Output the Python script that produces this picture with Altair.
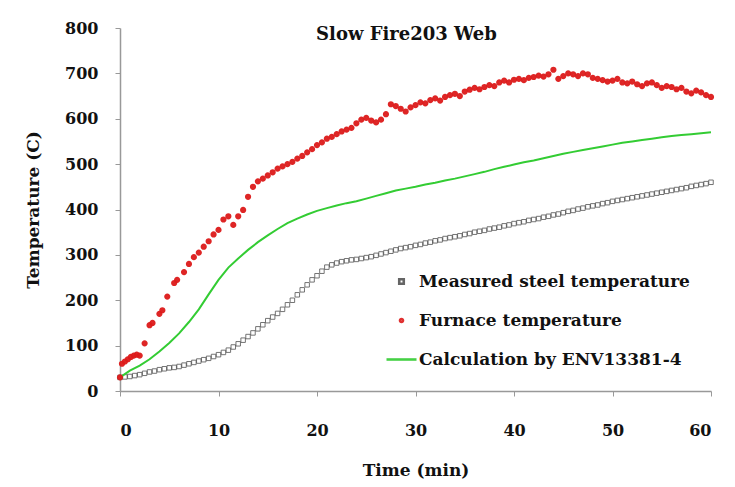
import altair as alt
import pandas as pd

# ---- data ----
steel_t = [i * 0.5 for i in range(121)]
steel_T = [30, 31, 32, 34, 36, 39, 42, 44, 47, 49, 51, 52, 54, 57, 60, 63, 66, 69, 72, 76,
           80, 85, 90, 97, 104, 112, 120, 128, 137, 146, 155, 163, 171, 180, 190, 200, 212, 223, 234, 245,
           254, 264, 273, 278, 282, 285, 287, 289, 290, 292, 294, 296, 299, 302, 305, 308, 311, 314, 316, 318,
           321, 323, 326, 328, 331, 333, 336, 338, 340, 342, 345, 347, 350, 352, 354, 357, 359, 361, 364, 366,
           369, 371, 373, 376, 378, 380, 383, 385, 388, 390, 393, 396, 398, 401, 403, 406, 408, 410, 413, 415,
           418, 420, 422, 424, 426, 428, 430, 432, 434, 436, 438, 440, 442, 444, 446, 448, 451, 453, 455, 457,
           460]

furn_t = [0, 0.2, 0.5, 0.8, 1.1, 1.4, 1.7, 2.0, 2.5, 3.0, 3.3, 4.0, 4.3, 4.8, 5.5, 5.8, 6.5, 7.0, 7.5,
          8.0, 8.5, 9.0, 9.5, 10.0, 10.5, 11.0, 11.5, 12.0, 12.5, 13.0, 13.5,
          14, 14.5, 15, 15.5, 16, 16.5, 17, 17.5, 18, 18.5, 19, 19.5, 20, 20.5, 21, 21.5, 22, 22.5,
          23, 23.5, 24, 24.5, 25, 25.5, 26, 26.5, 27, 27.5, 28, 28.5, 29, 29.5, 30, 30.5, 31, 31.5,
          32, 32.5, 33, 33.5, 34, 34.5, 35, 35.5, 36, 36.5, 37, 37.5, 38, 38.5, 39, 39.5, 40, 40.5,
          41, 41.5, 42, 42.5, 43, 43.5, 44, 44.5, 45, 45.5, 46, 46.5, 47, 47.5, 48, 48.5, 49, 49.5,
          50, 50.5, 51, 51.5, 52, 52.5, 53, 53.5, 54, 54.5, 55, 55.5, 56, 56.5, 57, 57.5, 58, 58.5,
          59, 59.5, 60]
furn_T = [30, 60, 65, 70, 75, 78, 80, 78, 105, 145, 150, 170, 178, 208, 238, 245, 262, 280, 295,
          305, 318, 330, 345, 355, 378, 385, 366, 385, 399, 428, 450,
          462, 468, 475, 482, 490, 495, 500, 505, 512, 518, 526, 533, 542, 548, 556, 560, 566, 572,
          576, 580, 590, 598, 602, 596, 592, 598, 610, 632, 628, 622, 616, 625, 630, 636, 634, 641,
          645, 640, 648, 652, 655, 650, 660, 664, 668, 665, 670, 674, 672, 680, 684, 680, 686, 688,
          685, 690, 692, 695, 693, 698, 708, 688, 694, 700, 698, 694, 700, 698, 690, 688, 685, 682,
          684, 688, 680, 678, 682, 676, 672, 678, 680, 674, 668, 672, 670, 665, 668, 660, 656, 662,
          658, 652, 648]

calc_t = list(range(61))
calc_T = [30, 45, 56, 70, 87, 106, 127, 152, 180, 213, 245, 272, 292, 311, 328, 343, 357, 370, 380, 389,
          397, 403, 409, 414, 418, 424, 430, 436, 442, 446, 450, 455, 459, 464, 468, 473, 478, 483, 489, 494,
          499, 504, 508, 513, 518, 523, 527, 531, 535, 539, 543, 547, 550, 553, 556, 559, 562, 564, 566, 568,
          570]

series_names = ["Measured steel temperature", "Furnace temperature", "Calculation by ENV13381-4"]
series_colors = ["#555555", "#dd1a1a", "#33cc33"]
series_shapes = ["M-0.15,-0.15L0.15,-0.15L0.15,0.15L-0.15,0.15Z",
                 "M-0.1,0A0.1,0.1,0,1,1,0.1,0A0.1,0.1,0,1,1,-0.1,0Z",
                 "M-1,0L1,0"]
x_ticks = [0, 10, 20, 30, 40, 50, 60]
y_ticks = [0, 100, 200, 300, 400, 500, 600, 700, 800]

steel = pd.DataFrame({"t": steel_t, "T": steel_T, "series": series_names[0]})
furn = pd.DataFrame({"t": furn_t, "T": furn_T, "series": series_names[1]})
calc = pd.DataFrame({"t": calc_t, "T": calc_T, "series": series_names[2]})

FONT = "DejaVu Serif"

legend = alt.Legend(title=None, orient="none", legendX=265, legendY=237,
                    symbolSize=900, symbolStrokeWidth=2.6, rowPadding=14,
                    padding=0, labelOffset=1, labelFont=FONT, labelFontSize=17,
                    labelFontWeight="bold", labelColor="#111", labelLimit=400)

x_enc = alt.X("t:Q", scale=alt.Scale(domain=[0, 60], nice=False),
              axis=alt.Axis(values=x_ticks, title="Time (min)", titleY=79, titleBaseline="middle",
                            labelPadding=26))
y_enc = alt.Y("T:Q", scale=alt.Scale(domain=[0, 800], nice=False),
              axis=alt.Axis(values=y_ticks, title="Temperature (C)", titleX=-87, titleBaseline="middle",
                            labelPadding=17))
color_enc = alt.Color("series:N", scale=alt.Scale(domain=series_names, range=series_colors),
                      legend=legend)
shape_enc = alt.Shape("series:N", scale=alt.Scale(domain=series_names, range=series_shapes),
                      legend=legend)

steel_layer = alt.Chart(steel).mark_point(filled=False, size=900, strokeWidth=0.9, opacity=0.9).encode(
    x=x_enc, y=y_enc, color=color_enc, shape=shape_enc)
furn_layer = alt.Chart(furn).mark_point(filled=False, size=900, strokeWidth=3.2, opacity=0.95).encode(
    x=x_enc, y=y_enc, color=color_enc, shape=shape_enc)
calc_layer = alt.Chart(calc).mark_line(strokeWidth=2).encode(
    x=x_enc, y=y_enc, color=color_enc)

chart = alt.layer(steel_layer, calc_layer, furn_layer).properties(
    width=591, height=363,
    padding={"left": 120, "top": 28, "right": 24, "bottom": 96},
    autosize=alt.AutoSizeParams(type="none"),
    title=alt.TitleParams("Slow Fire203 Web", font=FONT, fontSize=18, fontWeight="bold",
                          anchor="middle", offset=-33, baseline="middle", dx=-9, color="#111"),
).configure(background="white").configure_view(stroke=None).configure_axis(
    grid=False, domainColor="#999", domainWidth=1.5, tickColor="#999", tickSize=5,
    labelFont=FONT, labelFontSize=16, labelFontWeight="bold", labelColor="#111",
    titleFont=FONT, titleFontSize=17, titleFontWeight="bold", titleColor="#111",
)

chart.save("out.html", embed_options={"renderer": "svg", "actions": False})
